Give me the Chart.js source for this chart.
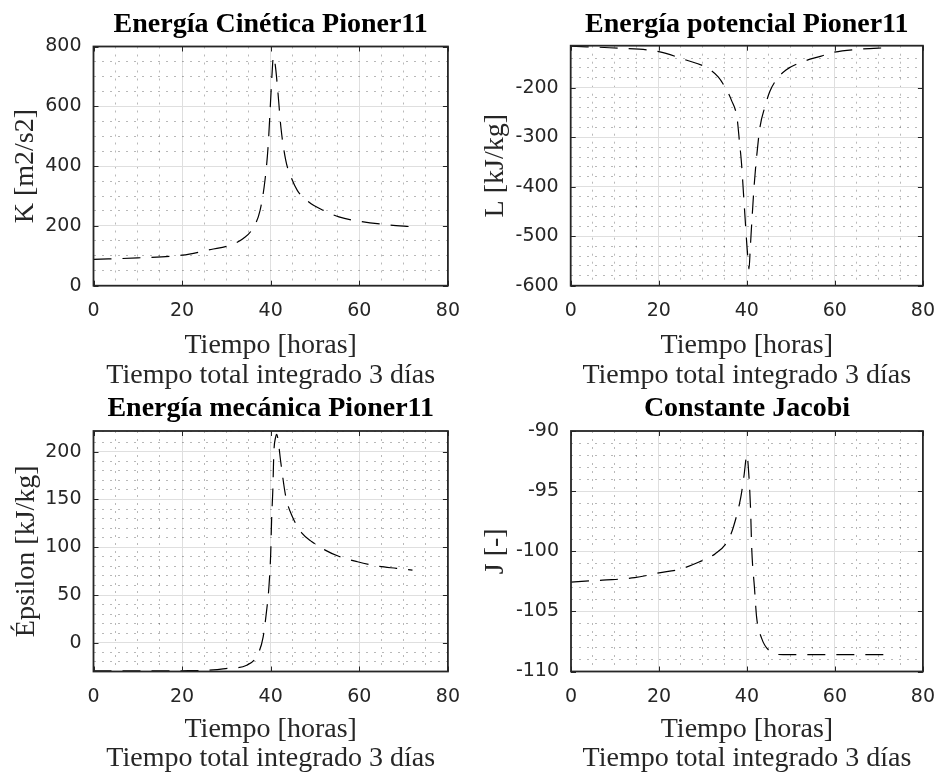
<!DOCTYPE html>
<html>
<head>
<meta charset="utf-8">
<title>Pioner11</title>
<script src="https://cdn.jsdelivr.net/npm/chart.js@4/dist/chart.umd.min.js"></script>
<style>
    body { margin: 0; background: #ffffff; }
    #page { position: relative; width: 949px; height: 775px; overflow: hidden; }
    canvas { position: absolute; }
</style>
</head>
<body>
<div id="page">
    <canvas id="kinetic" width="474" height="400" style="left:0px;top:0px;"></canvas>
    <canvas id="potential" width="475" height="400" style="left:474px;top:0px;"></canvas>
    <canvas id="mechanical" width="474" height="390" style="left:0px;top:385px;"></canvas>
    <canvas id="jacobi" width="475" height="390" style="left:474px;top:385px;"></canvas>
</div>
<script>
// Time axis (hours)
const xTicks = [0, 20, 40, 60, 80];

// Energía cinética
const tK = [0, 10, 20, 26.5, 31, 33.8, 35.7, 37.6, 38.7, 39.4, 39.9, 40.3, 40.6, 41.0, 41.6, 42.3, 43.4, 44.6, 46.0, 48.6, 51.9, 55.4, 60.3, 66.2, 72];
const kinetic = [88, 93, 102, 121, 136, 158, 186, 252, 352, 463, 597, 708, 766, 741, 652, 530, 419, 363, 319, 280, 252, 230, 215, 204, 197];
const kTicks = [0, 200, 400, 600, 800];

// Energía potencial
const tL = [0, 10.8, 20, 26.2, 30.6, 33.5, 35.0, 36.5, 37.8, 38.3, 38.8, 39.2, 39.6, 40.0, 40.3, 40.5, 40.8, 41.2, 41.7, 42.3, 43.0, 44.1, 45.2, 46.7, 48.9, 52.2, 56.9, 59.9, 65.7, 72];
const potential = [-116, -120, -127, -144, -158, -178, -198, -225, -262, -306, -353, -407, -462, -516, -550, -566, -522, -462, -394, -333, -279, -239, -208, -184, -164, -149, -136, -128, -122, -119];
const lTicks = [-600, -500, -400, -300, -200];

// Energía mecánica
const tE = [0, 10, 20, 27, 30.2, 34.6, 37.2, 38.3, 39.0, 39.6, 40.0, 40.2, 40.5, 40.7, 41.1, 41.35, 41.6, 42.3, 43.4, 44.9, 47.1, 49.3, 52.3, 55.2, 59.6, 64.0, 68.4, 72];
const mechanical = [-29.4, -29.4, -29.2, -28.4, -26.8, -23.4, -11, 6.3, 30.8, 58.6, 93.6, 128, 163, 198, 215, 218, 214, 188, 153, 132, 114.5, 105.8, 97, 90.8, 84.8, 80.3, 77.9, 76.1];
const eTicks = [0, 50, 100, 150, 200];

// Constante de Jacobi
const tJ = [0, 7.2, 14.5, 20, 24.7, 29.1, 32.8, 35.7, 36.9, 38.6, 39.3, 40.0, 40.4, 40.8, 41.1, 41.7, 42.2, 43.3, 45.2, 48.2, 54.8, 71.6];
const jacobi = [-102.56, -102.4, -102.2, -101.8, -101.5, -100.9, -100.2, -99.1, -98.0, -95.5, -93.8, -92.0, -93.5, -96.3, -99.9, -103.0, -105.5, -107.2, -108.3, -108.6, -108.6, -108.6];
const jTicks = [-110, -105, -100, -95, -90];

const SERIF = 'Liberation Serif';
const SANS = 'DejaVu Sans';
const AXIS_COLOR = '#262626';

const isMajor = function (v, list) {
    return list.some(m => Math.abs(m - v) < 1e-6);
};

// box around the axes + inward tick marks (matlab look)
const boxPlugin = {
    id: 'box',
    afterDraw(chart, args, opts) {
        const ctx = chart.ctx;
        const a = chart.chartArea;
        const sx = chart.scales.x;
        const sy = chart.scales.y;
        ctx.save();
        ctx.strokeStyle = AXIS_COLOR;
        ctx.lineWidth = 1;
        ctx.beginPath();
        opts.xMajor.forEach(v => {
            const px = Math.round(sx.getPixelForValue(v)) + 0.5;
            ctx.moveTo(px, a.bottom); ctx.lineTo(px, a.bottom - 5);
            ctx.moveTo(px, a.top); ctx.lineTo(px, a.top + 5);
        });
        opts.yMajor.forEach(v => {
            const py = Math.round(sy.getPixelForValue(v)) + 0.5;
            ctx.moveTo(a.left, py); ctx.lineTo(a.left + 5, py);
            ctx.moveTo(a.right, py); ctx.lineTo(a.right - 5, py);
        });
        ctx.stroke();
        ctx.lineWidth = 1.8;
        ctx.strokeRect(a.left, a.top, a.right - a.left, a.bottom - a.top);
        ctx.restore();
    }
};

/*
    One subplot
*/
const makePlot = function (id, s) {
    const points = s.t.map((t, i) => ({ x: t, y: s.values[i] }));
    return new Chart(document.getElementById(id), {
        type: 'line',
        data: {
            datasets: [{
                data: points,
                borderColor: '#000000',
                borderWidth: 1.2,
                borderDash: [18, 11],
                pointRadius: 0,
                fill: false,
                cubicInterpolationMode: 'monotone'
            }]
        },
        plugins: [boxPlugin],
        options: {
            responsive: false,
            animation: false,
            devicePixelRatio: 1,
            layout: { padding: { left: 0, top: 0, right: s.padRight, bottom: s.padBottom } },
            plugins: {
                legend: { display: false },
                tooltip: { enabled: false },
                title: {
                    display: true,
                    fullSize: false,
                    text: s.title,
                    color: '#000000',
                    font: { family: SERIF, size: 28, weight: 'bold', lineHeight: 1.2 },
                    padding: { top: s.titleTop, bottom: s.titleBottom }
                },
                box: { xMajor: xTicks, yMajor: s.yMajor }
            },
            scales: {
                x: {
                    type: 'linear',
                    min: 0,
                    max: 80,
                    afterFit: (scale) => { scale.height = s.xHeight; },
                    ticks: {
                        stepSize: 5,
                        autoSkip: false,
                        maxRotation: 0,
                        padding: 14,
                        color: AXIS_COLOR,
                        font: { family: SANS, size: 19 },
                        callback: (v) => isMajor(v, xTicks) ? String(v) : ''
                    },
                    grid: {
                        drawTicks: false,
                        lineWidth: 1,
                        color: (c) => isMajor(c.tick.value, xTicks) ? '#dfdfdf' : 'rgba(0,0,0,0.28)'
                    },
                    border: {
                        display: false,
                        dash: (c) => (c.tick && !isMajor(c.tick.value, xTicks)) ? [2, 6] : []
                    },
                    title: {
                        display: true,
                        text: ['Tiempo [horas]', 'Tiempo total integrado 3 días'],
                        color: AXIS_COLOR,
                        font: { family: SERIF, size: 28, lineHeight: 1.05 },
                        padding: { top: 0, bottom: 0 }
                    }
                },
                y: {
                    type: 'linear',
                    min: s.yMin,
                    max: s.yMax,
                    afterFit: (scale) => { scale.width = s.yWidth; },
                    ticks: {
                        stepSize: s.yMinor,
                        autoSkip: false,
                        padding: 12,
                        color: AXIS_COLOR,
                        font: { family: SANS, size: 19 },
                        callback: (v) => isMajor(v, s.yMajor) ? String(v) : ''
                    },
                    grid: {
                        drawTicks: false,
                        lineWidth: 1,
                        color: (c) => isMajor(c.tick.value, s.yMajor) ? '#dfdfdf' : 'rgba(0,0,0,0.28)'
                    },
                    border: {
                        display: false,
                        dash: (c) => (c.tick && !isMajor(c.tick.value, s.yMajor)) ? [2, 6] : []
                    },
                    title: {
                        display: true,
                        text: s.yLabel,
                        color: AXIS_COLOR,
                        font: { family: SERIF, size: 28, lineHeight: 1.2 },
                        padding: { top: s.yTitlePad, bottom: 0 }
                    }
                }
            }
        }
    });
};

document.addEventListener("DOMContentLoaded", function () {
    makePlot('kinetic', {
        t: tK, values: kinetic, title: 'Energía Cinética Pioner11', yLabel: 'K [m2/s2]',
        yMin: 0, yMax: 800, yMinor: 50, yMajor: kTicks,
        yWidth: 93.5, yTitlePad: 9.3, padRight: 18.5, padBottom: 10, xHeight: 104.3,
        titleTop: 8, titleBottom: 4.9
    });
    makePlot('potential', {
        t: tL, values: potential, title: 'Energía potencial Pioner11', yLabel: 'L [kJ/kg]',
        yMin: -600, yMax: -115, yMinor: 20, yMajor: lTicks,
        yWidth: 96.7, yTitlePad: 5.3, padRight: 14, padBottom: 10, xHeight: 104.3,
        titleTop: 8, titleBottom: 4.1
    });
    makePlot('mechanical', {
        t: tE, values: mechanical, title: 'Energía mecánica Pioner11', yLabel: 'Épsilon [kJ/kg]',
        yMin: -30, yMax: 221.6, yMinor: 10, yMajor: eTicks,
        yWidth: 93.5, yTitlePad: 10.2, padRight: 18.5, padBottom: 1.5, xHeight: 102,
        titleTop: 7.4, titleBottom: 5
    });
    makePlot('jacobi', {
        t: tJ, values: jacobi, title: 'Constante Jacobi', yLabel: 'J [-]',
        yMin: -110, yMax: -90, yMinor: 1, yMajor: jTicks,
        yWidth: 97, yTitlePad: 4.8, padRight: 14, padBottom: 1.5, xHeight: 102,
        titleTop: 7.4, titleBottom: 5
    });
});
</script>
</body>
</html>
